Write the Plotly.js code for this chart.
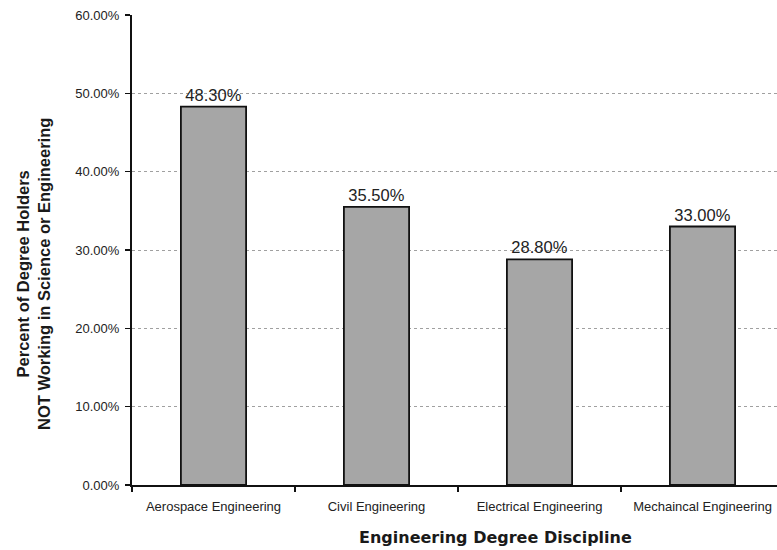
<!DOCTYPE html>
<html>
<head>
<meta charset="utf-8">
<script src="https://cdn.plot.ly/plotly-3.0.1.min.js"></script>
<style>html,body{margin:0;padding:0;overflow:hidden;background:#fff;}</style>
</head>
<body>
<div id="chart" style="width:784px;height:550px;"></div>
<script>
var categories = ["Aerospace Engineering", "Civil Engineering", "Electrical Engineering", "Mechaincal Engineering"];
var values = [0.483, 0.355, 0.288, 0.330];
var yTickVals = [0, 0.1, 0.2, 0.3, 0.4, 0.5, 0.6];

var trace = {
  type: "bar",
  x: categories,
  y: values,
  marker: {color: "#a6a6a6", line: {color: "#111", width: 1.8}},
  text: values.map(function(v){ return (v*100).toFixed(2) + "%"; }),
  textposition: "outside",
  cliponaxis: false,
  textfont: {family: "Liberation Sans, Arial, sans-serif", size: 16.5, color: "#222"},
  hoverinfo: "none"
};

var layout = {
  width: 784, height: 550,
  margin: {l: 132, r: 0, t: 15, b: 65},
  paper_bgcolor: "#fff", plot_bgcolor: "#fff",
  showlegend: false,
  bargap: 0.6,
  font: {family: "Liberation Sans, Arial, sans-serif", color: "#222"},
  xaxis: {
    type: "category",
    tickson: "boundaries",
    ticks: "outside", ticklen: 5, tickwidth: 1.5, tickcolor: "#111",
    showline: true, linecolor: "#111", linewidth: 2,
    showgrid: false,
    tickfont: {size: 13, color: "#222"},
    ticklabelstandoff: 8,
    fixedrange: true
  },
  yaxis: {
    range: [0, 0.6],
    tickvals: yTickVals,
    tickformat: ".2%",
    ticks: "outside", ticklen: 5, tickwidth: 1.5, tickcolor: "#111",
    showline: true, linecolor: "#111", linewidth: 2,
    showgrid: true, gridcolor: "#a0a0a0", gridwidth: 1, griddash: "3px,3px",
    zeroline: false,
    tickfont: {size: 13, color: "#222"},
    ticklabelstandoff: 3,
    fixedrange: true
  },
  annotations: [
    {
      text: "<b>Engineering Degree Discipline</b>",
      xref: "paper", yref: "paper", x: 0.558, y: 0,
      xanchor: "center", yanchor: "middle", yshift: -52,
      showarrow: false,
      font: {family: "DejaVu Sans, Verdana, sans-serif", size: 16, color: "#1a1a1a"}
    },
    {
      text: "<b>Percent of Degree Holders<br>NOT Working in Science or Engineering</b>",
      xref: "paper", yref: "paper", x: 0, y: 0.5,
      xanchor: "center", yanchor: "middle", xshift: -99, yshift: -24,
      textangle: -90,
      showarrow: false,
      font: {family: "Liberation Sans, Arial, sans-serif", size: 16.5, color: "#1a1a1a"}
    }
  ]
};

Plotly.newPlot("chart", [trace], layout, {displayModeBar: false, staticPlot: true});
</script>
</body>
</html>
